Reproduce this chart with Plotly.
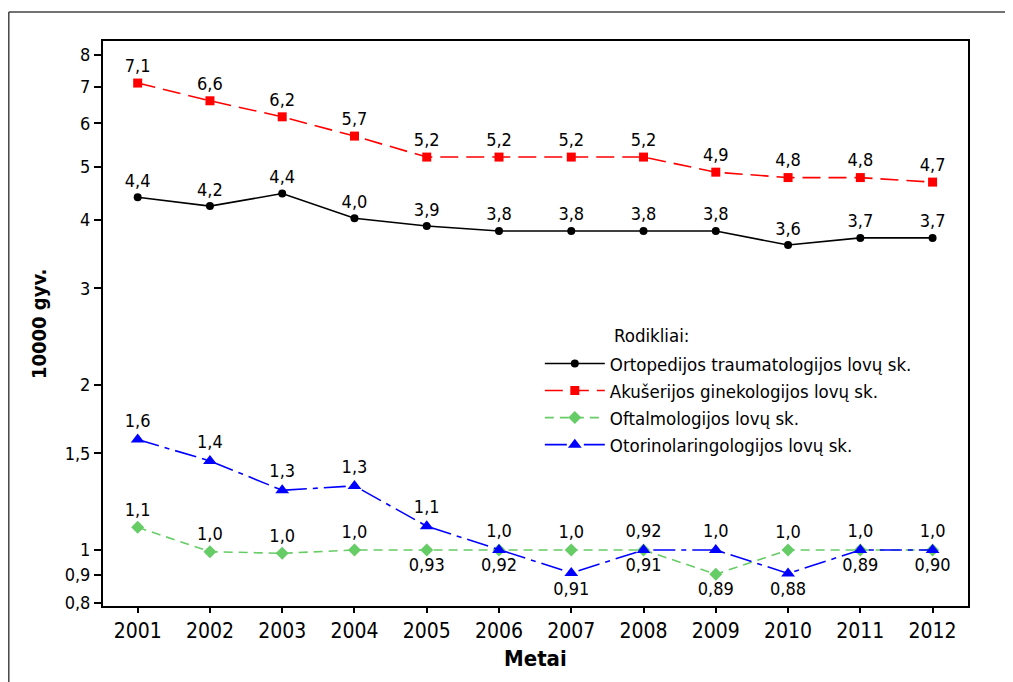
import plotly.graph_objects as go

# data
years = list(range(2001, 2013))

ortoped = [4.40, 4.24, 4.47, 4.03, 3.90, 3.82, 3.82, 3.82, 3.82, 3.60, 3.71, 3.71]
ortoped_lbl = ["4,4", "4,2", "4,4", "4,0", "3,9", "3,8", "3,8", "3,8", "3,8", "3,6", "3,7", "3,7"]

akuser = [7.11, 6.60, 6.17, 5.69, 5.21, 5.21, 5.21, 5.21, 4.89, 4.78, 4.78, 4.69]
akuser_lbl = ["7,1", "6,6", "6,2", "5,7", "5,2", "5,2", "5,2", "5,2", "4,9", "4,8", "4,8", "4,7"]

oftalm = [1.10, 0.993, 0.986, 1.0, 1.0, 1.0, 1.0, 1.0, 0.903, 1.0, 1.0, 1.0]
oftalm_lbl = ["1,1", "1,0", "1,0", "1,0", "0,93", "0,92", "1,0", "0,91", "0,89", "1,0", "0,89", "0,90"]
oftalm_pos = ["top"] * 4 + ["bottom", "bottom", "top", "bottom", "bottom", "top", "bottom", "bottom"]

otorin = [1.59, 1.454, 1.285, 1.309, 1.105, 1.0, 0.908, 1.0, 1.0, 0.906, 1.0, 1.0]
otorin_lbl = ["1,6", "1,4", "1,3", "1,3", "1,1", "1,0", "0,91", "0,92", "1,0", "0,88", "1,0", "1,0"]
otorin_pos = ["top"] * 6 + ["bottom", "top", "top", "bottom", "top", "top"]

ytick_vals = [0.8, 0.9, 1, 1.5, 2, 3, 4, 5, 6, 7, 8]
ytick_text = ["0,8", "0,9", "1", "1,5", "2", "3", "4", "5", "6", "7", "8"]

FONT = "DejaVu Sans Condensed, DejaVu Sans, sans-serif"

fig = go.Figure()


def add_series(y, labels, pos, name, color, dash, symbol, size):
    fig.add_trace(go.Scatter(
        x=years, y=y, name=name, mode="lines+markers+text",
        text=labels, textposition=[p + " center" for p in pos],
        textfont=dict(size=18, color="black", family=FONT),
        line=dict(color=color, width=1.6, dash=dash),
        marker=dict(color=color, symbol=symbol, size=size),
        cliponaxis=False,
    ))


add_series(ortoped, ortoped_lbl, ["top"] * 12, "Ortopedijos traumatologijos lovų sk.",
           "black", "solid", "circle", 8)
add_series(akuser, akuser_lbl, ["top"] * 12, "Akušerijos ginekologijos lovų sk.",
           "#ff0000", "18px,8px", "square", 9)
add_series(oftalm, oftalm_lbl, oftalm_pos, "Oftalmologijos lovų sk.",
           "#66cc66", "9px,6px", "diamond", 10)
add_series(otorin, otorin_lbl, otorin_pos, "Otorinolaringologijos lovų sk.",
           "#0000ff", "22px,6px,5px,6px", "triangle-up", 12)

# the page puts the figure 8px in from the top-left corner, so it is drawn 8px smaller
frame_left = -94.2 / 865
frame_top = (605.7 - 12) / 564.7

fig.update_layout(
    width=1005, height=674,
    margin=dict(l=95, r=45, t=33, b=76),
    paper_bgcolor="white", plot_bgcolor="white",
    font=dict(family=FONT, color="black"),
    showlegend=True,
    legend=dict(x=0.505, y=0.462, xanchor="left", yanchor="top",
                font=dict(size=18.5, family=FONT), bgcolor="rgba(0,0,0,0)",
                itemwidth=60),
    xaxis=dict(range=[2000.52, 2012.49], tickvals=years, ticks="outside",
               ticklen=5, tickwidth=1.5, tickcolor="black",
               tickfont=dict(size=21), showgrid=False, zeroline=False,
               showline=True, linecolor="black", linewidth=2, mirror=True),
    yaxis=dict(type="log", range=[-0.1022, 0.9286], tickvals=ytick_vals,
               ticktext=ytick_text, ticks="outside", ticklen=7, tickwidth=1.5,
               tickcolor="black", tickfont=dict(size=18), showgrid=False,
               zeroline=False, showline=True, linecolor="black", linewidth=2,
               mirror=True),
    annotations=[
        dict(text="<b>Metai</b>", x=0.5, y=-0.0926, xref="paper", yref="paper",
             showarrow=False, font=dict(size=22), xanchor="center", yanchor="middle"),
        dict(text="<b>10000 gyv.</b>", x=-0.074, y=0.499, xref="paper", yref="paper",
             showarrow=False, font=dict(size=20), textangle=-90,
             xanchor="center", yanchor="middle"),
        dict(text="Rodikliai:", x=(612 - 103) / 865, y=(605.7 - 335) / 564.7,
             xref="paper", yref="paper", showarrow=False, font=dict(size=18.5),
             xanchor="left", yanchor="middle"),
    ],
    shapes=[
        # outer frame: top and left edges only, the rest runs off the page
        dict(type="line", xref="paper", yref="paper",
             x0=frame_left, x1=1.2, y0=frame_top, y1=frame_top,
             line=dict(color="#444444", width=1.5), layer="below"),
        dict(type="line", xref="paper", yref="paper",
             x0=frame_left, x1=frame_left, y0=-0.3, y1=frame_top,
             line=dict(color="#444444", width=1.5), layer="below"),
    ],
)

fig.write_html("out.html")
